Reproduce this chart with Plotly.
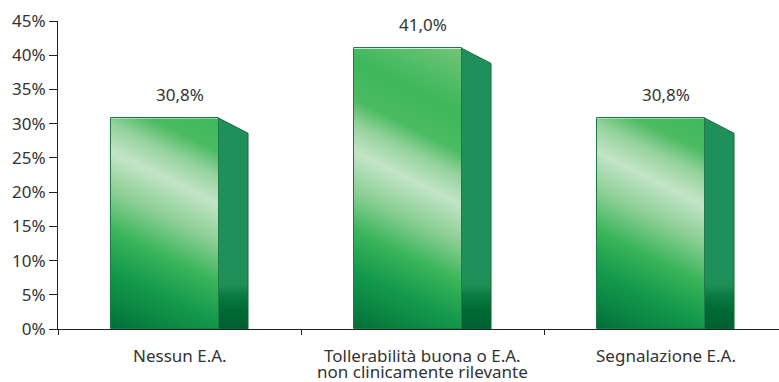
import base64
import plotly.graph_objects as go

# ---- data ----
category_lines = [["Nessun E.A."],
                  ["Tollerabilità buona o E.A.", "non clinicamente rilevante"],
                  ["Segnalazione E.A."]]
categories = [" ".join(l) for l in category_lines]
values = [30.8, 41.0, 30.8]
y_tick_vals = [0, 5, 10, 15, 20, 25, 30, 35, 40, 45]
y_tick_text = [f"{v}%" for v in y_tick_vals]

# ---- styling / geometry (category units & % units) ----
FRONT_OFF = -0.282
FRONT_W = 0.444
SIDE_W = 0.12
SIDE_DROP = 2.2          # % units the back edge of the side face drops
SLOPE = 17.43            # isoline slope of the front gradient (% per category unit)
FONT = "Noto Sans"
TXT = "#333333"

front_stops = [(-0.5, "#006a36"), (4.2, "#0a8642"), (8.6, "#14994c"), (14.5, "#3ab55a"),
               (20.3, "#8ccf96"), (25.9, "#c3e4c6"), (30.0, "#95d29d"), (33.5, "#4cbb62"),
               (39.3, "#3db75a"), (48.1, "#6ec477")]


def svg_uri(svg):
    return "data:image/svg+xml;base64," + base64.b64encode(svg.encode()).decode()


def front_svg(v):
    smin, smax = front_stops[0][0], front_stops[-1][0]
    n2 = SLOPE ** 2 + 1
    k1, k2 = smin / n2, smax / n2
    x1, y1 = SLOPE * k1, -k1
    x2, y2 = SLOPE * k2, -k2
    stops = "".join(
        f'<stop offset="{(s - smin) / (smax - smin):.4f}" stop-color="{c}"/>' for s, c in front_stops)
    return (f'<svg xmlns="http://www.w3.org/2000/svg" width="108" height="{v*6.84:.1f}" '
            f'viewBox="0 {-v} {FRONT_W} {v}" preserveAspectRatio="none">'
            f'<defs><linearGradient id="g" gradientUnits="userSpaceOnUse" '
            f'x1="{x1}" y1="{y1}" x2="{x2}" y2="{y2}">{stops}</linearGradient></defs>'
            f'<rect x="0" y="{-v}" width="{FRONT_W}" height="{v}" fill="url(#g)"/></svg>')


def side_svg(v):
    pts = f"0,{-v} {SIDE_W},{-(v - SIDE_DROP)} {SIDE_W},0 0,0"
    return (f'<svg xmlns="http://www.w3.org/2000/svg" width="29" height="{v*6.84:.1f}" '
            f'viewBox="0 {-v} {SIDE_W} {v}" preserveAspectRatio="none">'
            f'<defs><linearGradient id="s" gradientUnits="userSpaceOnUse" x1="0" y1="0" x2="0" y2="-8">'
            f'<stop offset="0" stop-color="#005f2e"/><stop offset="0.35" stop-color="#006a35"/>'
            f'<stop offset="0.62" stop-color="#0c7b42"/><stop offset="0.8" stop-color="#1f8f55"/>'
            f'<stop offset="1" stop-color="#20905a"/></linearGradient></defs>'
            f'<polygon points="{pts}" fill="url(#s)"/></svg>')


fig = go.Figure()

# front faces (outline; gradient fill supplied by images below)
fig.add_trace(go.Bar(
    x=categories, y=values, width=FRONT_W, offset=FRONT_OFF,
    marker=dict(color="rgba(0,0,0,0)", line=dict(color="#1e7b47", width=1)),
    hoverinfo="skip", showlegend=False))

images = []
for i, v in enumerate(values):
    images.append(dict(source=svg_uri(front_svg(v)), xref="x", yref="y",
                       x=i + FRONT_OFF, y=v, sizex=FRONT_W, sizey=v,
                       xanchor="left", yanchor="top", sizing="stretch", layer="below"))
    images.append(dict(source=svg_uri(side_svg(v)), xref="x", yref="y",
                       x=i + FRONT_OFF + FRONT_W, y=v, sizex=SIDE_W, sizey=v,
                       xanchor="left", yanchor="top", sizing="stretch", layer="below"))
    # side face outline
    xs0 = i + FRONT_OFF + FRONT_W
    fig.add_trace(go.Scatter(
        x=[xs0, xs0 + SIDE_W, xs0 + SIDE_W, xs0],
        y=[v, v - SIDE_DROP, 0, 0], mode="lines",
        line=dict(color="#0e6b3b", width=1), xaxis="x2",
        hoverinfo="skip", showlegend=False))

annotations = [dict(x=categories[i], y=v, yshift=24, text=f"{v:.1f}".replace(".", ",") + "%",
                    showarrow=False, font=dict(family=FONT, size=17, color=TXT),
                    xanchor="center", yanchor="middle")
               for i, v in enumerate(values)]

# category labels (one annotation per line, tight leading)
for i, lines in enumerate(category_lines):
    for j, line in enumerate(lines):
        annotations.append(dict(x=categories[i], y=0, yref="paper", yshift=-26 - 16 * j,
                                text=line, showarrow=False, xanchor="center", yanchor="middle",
                                font=dict(family=FONT, size=17, color=TXT)))

XR = [-0.5, 2.467]
fig.update_layout(
    width=779, height=382,
    margin=dict(l=58, r=0, t=21, b=53),
    paper_bgcolor="white", plot_bgcolor="rgba(0,0,0,0)",
    bargap=0,
    images=images,
    annotations=annotations,
    font=dict(family=FONT, size=17, color=TXT),
    xaxis=dict(type="category", range=XR, showgrid=False, showline=True,
               linecolor="#222222", linewidth=1, ticks="outside", ticklen=5,
               tickcolor="#222222", tickson="boundaries", showticklabels=False),
    xaxis2=dict(overlaying="x", range=XR, visible=False),
    yaxis=dict(range=[0, 45], tickvals=y_tick_vals, ticktext=y_tick_text, showgrid=False,
               zeroline=False, showline=True, linecolor="#222222", linewidth=1,
               ticks="outside", ticklen=8, tickcolor="#222222",
               tickfont=dict(size=17, color=TXT)),
)

fig.write_html("out.html")
